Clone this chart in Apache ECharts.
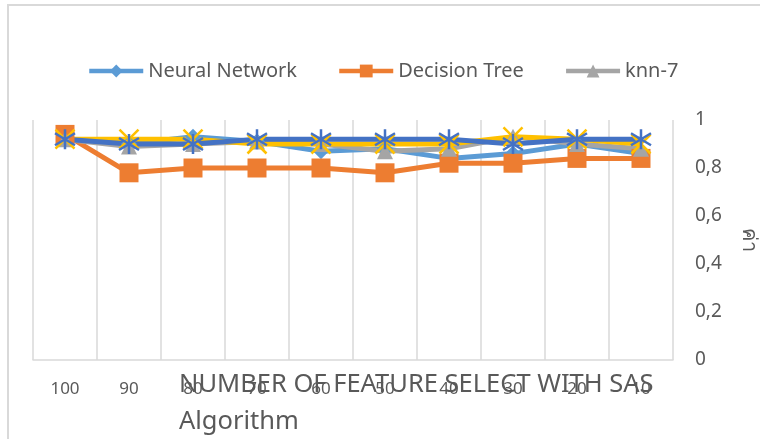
<!DOCTYPE html>
<html>
<head>
<meta charset="utf-8">
<script src="https://cdn.jsdelivr.net/npm/echarts@6/dist/echarts.min.js"></script>
<style>
  html, body { margin: 0; padding: 0; background: #fff; }
  #chart { width: 760px; height: 439px; }
</style>
</head>
<body>
<div id="chart"></div>
<script>
// data
const categories = ["100", "90", "80", "70", "60", "50", "40", "30", "20", "10"];
const neuralNetwork = [0.92, 0.90, 0.93, 0.91, 0.87, 0.88, 0.84, 0.86, 0.90, 0.86];
const decisionTree = [0.94, 0.78, 0.80, 0.80, 0.80, 0.78, 0.82, 0.82, 0.84, 0.84];
const knn7 = [0.92, 0.89, 0.90, 0.91, 0.90, 0.87, 0.88, 0.93, 0.90, 0.88];
const series4 = [0.92, 0.92, 0.92, 0.90, 0.90, 0.90, 0.90, 0.93, 0.92, 0.90];
const series5 = [0.92, 0.90, 0.90, 0.92, 0.92, 0.92, 0.92, 0.90, 0.92, 0.92];
const yTicks = [0, 0.2, 0.4, 0.6, 0.8, 1];

const font = "'Noto Sans', sans-serif";
const textColor = "#595959";

const starPath = "path://M5,0 L5,10 M1,2 L9,8 M9,2 L1,8";
const crossPath = "path://M1,1 L9,9 M9,1 L1,9";

function lineSeries(name, data, color, symbol, size, stroke) {
  return {
    name: name,
    type: "line",
    data: data,
    symbol: symbol,
    symbolSize: size,
    lineStyle: { color: color, width: 5 },
    itemStyle: stroke
      ? { color: color, borderColor: color, borderWidth: 2.5 }
      : { color: color },
    emphasis: { disabled: true }
  };
}

const chart = echarts.init(document.getElementById("chart"));
chart.setOption({
  animation: false,
  graphic: [{
    type: "rect",
    shape: { x: 8, y: 5, width: 800, height: 500 },
    style: { fill: "none", stroke: "#d9d9d9", lineWidth: 2 },
    z: -10
  }],
  title: {
    text: "NUMBER OF FEATURE SELECT WITH SAS\nAlgorithm",
    left: 174,
    top: 361,
    textStyle: {
      fontFamily: font, fontSize: 25.5, fontWeight: "normal",
      color: textColor, lineHeight: 37
    }
  },
  legend: {
    data: ["Neural Network", "Decision Tree", "knn-7"],
    left: 82,
    top: 56,
    itemWidth: 54,
    itemHeight: 16,
    itemGap: 40,
    lineStyle: { width: 4.5 },
    textStyle: { fontFamily: font, fontSize: 20, color: textColor }
  },
  grid: { left: 33, right: 87, top: 120, bottom: 79, containLabel: false, outerBoundsMode: "none" },
  xAxis: {
    type: "category",
    data: categories,
    boundaryGap: true,
    axisLine: { lineStyle: { color: "#d9d9d9", width: 1.5 } },
    axisTick: { show: false },
    splitLine: { show: true, lineStyle: { color: "#d9d9d9", width: 1.5 } },
    axisLabel: {
      fontFamily: font, fontSize: 17, color: textColor, margin: 21,
      interval: 0
    }
  },
  yAxis: {
    type: "value",
    position: "right",
    min: 0,
    max: 1,
    interval: 0.2,
    name: "ค่า",
    nameLocation: "middle",
    nameGap: 66,
    nameRotate: -90,
    nameTextStyle: { fontFamily: font, fontSize: 20, color: textColor },
    axisLine: { show: false },
    axisTick: { show: false },
    splitLine: { show: false },
    axisLabel: {
      fontFamily: font, fontSize: 19, color: textColor, margin: 22,
      formatter: v => yTicks.includes(+v.toFixed(1)) ? String(+v.toFixed(1)).replace(".", ",") : ""
    }
  },
  series: [
    lineSeries("Neural Network", neuralNetwork, "#5B9BD5", "diamond", 16, false),
    lineSeries("Decision Tree", decisionTree, "#ED7D31", "rect", 19, false),
    lineSeries("knn-7", knn7, "#A5A5A5", "triangle", 16, false),
    lineSeries("Series 4", series4, "#FFC000", crossPath, 19, true),
    lineSeries("Series 5", series5, "#4472C4", starPath, 20, true)
  ]
});
</script>
</body>
</html>
